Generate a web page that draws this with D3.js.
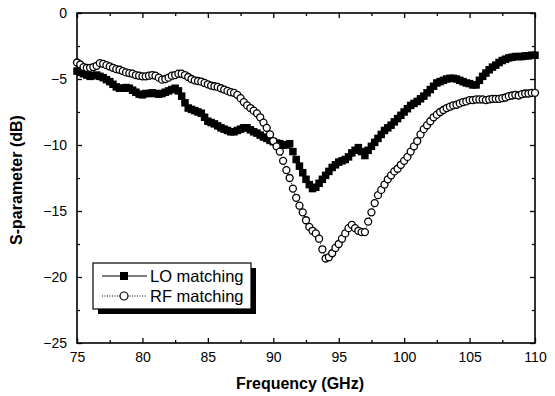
<!DOCTYPE html>
<html>
<head>
<meta charset="utf-8">
<script src="https://cdn.jsdelivr.net/npm/d3@7"></script>
<style>
  body { margin: 0; background: #fff; }
  svg { font-family: "Liberation Sans", Arial, sans-serif; }
</style>
</head>
<body>
<div id="app"></div>
<script>
// frequency grid (GHz), 0.25 GHz step
const freq = d3.range(141).map(i => 75 + i * 0.25);

const loMatching = [
  -4.4, -4.5, -4.6, -4.7,   -4.8, -4.75, -4.7, -4.8,   -4.9, -5.05, -5.2, -5.4,
  -5.6, -5.7, -5.7, -5.65,  -5.7, -5.85, -6.0, -6.15,  -6.2, -6.1, -6.1, -6.05,
  -6.1, -6.15, -6.1, -6.0,  -5.9, -5.8, -5.7, -5.9,    -6.3, -6.8, -7.2, -7.3,
  -7.4, -7.5, -7.6, -7.9,   -8.2, -8.3, -8.4, -8.55,   -8.7, -8.8, -8.9, -9.0,
  -9.0, -8.9, -8.8, -8.7,   -8.7, -8.85, -9.0, -9.1,   -9.25, -9.4, -9.5, -9.65,
  -9.75, -9.85, -9.9, -10.0, -10.0, -9.9, -10.5, -11.1, -11.6, -12.1, -12.6, -13.0,
  -13.3, -13.2, -12.9, -12.6, -12.3, -12.0, -11.7, -11.5, -11.3, -11.2, -11.1, -10.9,
  -10.6, -10.4, -10.2, -10.5, -10.8, -10.4, -10.1, -9.8, -9.5, -9.2, -8.9, -8.7,
  -8.5, -8.25, -8.0, -7.75, -7.5, -7.25, -7.0, -6.85,  -6.7, -6.5, -6.3, -6.05,
  -5.8, -5.55, -5.3, -5.2,  -5.1, -5.0, -4.95, -4.95,  -5.0, -5.1, -5.2, -5.3,
  -5.35, -5.45, -5.45, -5.1, -4.8, -4.55, -4.3, -4.1,  -3.95, -3.75, -3.6, -3.5,
  -3.4, -3.35, -3.3, -3.3,  -3.3, -3.25, -3.25, -3.2,  -3.2
];

const rfMatching = [
  -3.75, -3.9, -4.1, -4.15, -4.15, -4.1, -4.0, -3.8,   -3.85, -3.95, -4.05, -4.15,
  -4.25, -4.3, -4.4, -4.5,  -4.55, -4.6, -4.7, -4.75,  -4.8, -4.8, -4.75, -4.7,
  -4.75, -4.9, -5.05, -5.0, -4.9, -4.75, -4.7, -4.6,   -4.6, -4.7, -4.85, -5.0,
  -5.1, -5.15, -5.2, -5.3,  -5.4, -5.5, -5.55, -5.6,   -5.7, -5.8, -5.9, -6.0,
  -6.05, -6.2, -6.45, -6.75, -7.0, -7.2, -7.4, -7.6,   -7.9, -8.3, -8.7, -9.2,
  -9.7, -10.1, -10.5, -11.2, -11.9, -12.5, -13.3, -14.0, -14.6, -15.1, -15.7, -16.2,
  -16.5, -16.7, -17.1, -17.9, -18.6, -18.5, -18.2, -17.8, -17.5, -17.1, -16.7, -16.3,
  -16.05, -16.3, -16.5, -16.6, -16.6, -15.8, -15.1, -14.4, -13.8, -13.4, -13.0, -12.6,
  -12.3, -12.0, -11.8, -11.5, -11.2, -10.9, -10.5, -10.1, -9.7, -9.2, -8.8, -8.5,
  -8.2, -7.9, -7.7, -7.5,   -7.35, -7.2, -7.1, -7.0,   -6.95, -6.85, -6.75, -6.7,
  -6.6, -6.6, -6.55, -6.55, -6.55, -6.6, -6.55, -6.5,  -6.5, -6.5, -6.45, -6.4,
  -6.3, -6.25, -6.2, -6.25, -6.15, -6.1, -6.1, -6.05,  -6.05
];

const xTicks = [75, 80, 85, 90, 95, 100, 105, 110];
const yTicks = [0, -5, -10, -15, -20, -25];
const seriesNames = ['LO matching', 'RF matching'];

const width = 555;
const height = 396;
const margin = { top: 13, right: 20, bottom: 53, left: 77 };

const svg = d3.select('#app')
  .append('svg')
  .attr('width', width)
  .attr('height', height);

const x = d3.scaleLinear()
  .domain([75, 110])
  .range([margin.left, width - margin.right]);

const y = d3.scaleLinear()
  .domain([-25, 0])
  .range([height - margin.bottom, margin.top]);

const x0 = margin.left, x1 = width - margin.right;
const y0 = height - margin.bottom, y1 = margin.top;

// minor ticks (half steps)
const xMinor = d3.range(77.5, 110, 5);
const yMinor = d3.range(-22.5, 0, 5);

function styleAxis(g) {
  g.select('.domain').remove();
  g.selectAll('.tick line').attr('stroke', '#000').attr('stroke-width', 1.3);
  g.selectAll('.tick text').attr('fill', '#000').attr('font-size', 14);
}

// bottom axis
svg.append('g')
  .attr('transform', `translate(0,${y0})`)
  .call(d3.axisBottom(x).tickValues(xTicks).tickSize(-5).tickPadding(9).tickFormat(d3.format('d')))
  .call(styleAxis);
svg.append('g')
  .attr('transform', `translate(0,${y0})`)
  .call(d3.axisBottom(x).tickValues(xMinor).tickSize(-3).tickFormat(''))
  .call(styleAxis);

// top axis
svg.append('g')
  .attr('transform', `translate(0,${y1})`)
  .call(d3.axisTop(x).tickValues(xTicks).tickSize(-5).tickFormat(''))
  .call(styleAxis);
svg.append('g')
  .attr('transform', `translate(0,${y1})`)
  .call(d3.axisTop(x).tickValues(xMinor).tickSize(-3).tickFormat(''))
  .call(styleAxis);

// left axis
svg.append('g')
  .attr('transform', `translate(${x0},0)`)
  .call(d3.axisLeft(y).tickValues(yTicks).tickSize(-5).tickPadding(10).tickFormat(d3.format('d')))
  .call(styleAxis);
svg.append('g')
  .attr('transform', `translate(${x0},0)`)
  .call(d3.axisLeft(y).tickValues(yMinor).tickSize(-3).tickFormat(''))
  .call(styleAxis);

// right axis
svg.append('g')
  .attr('transform', `translate(${x1},0)`)
  .call(d3.axisRight(y).tickValues(yTicks).tickSize(-5).tickFormat(''))
  .call(styleAxis);
svg.append('g')
  .attr('transform', `translate(${x1},0)`)
  .call(d3.axisRight(y).tickValues(yMinor).tickSize(-3).tickFormat(''))
  .call(styleAxis);

// frame
svg.append('rect')
  .attr('x', x0).attr('y', y1)
  .attr('width', x1 - x0).attr('height', y0 - y1)
  .attr('fill', 'none').attr('stroke', '#000').attr('stroke-width', 1.6);

const loData = freq.map((f, i) => ({ f, v: loMatching[i] }));
const rfData = freq.map((f, i) => ({ f, v: rfMatching[i] }));

const line = d3.line().x(d => x(d.f)).y(d => y(d.v));

// lines
svg.append('path').datum(loData)
  .attr('d', line).attr('fill', 'none').attr('stroke', '#000').attr('stroke-width', 1);
svg.append('path').datum(rfData)
  .attr('d', line).attr('fill', 'none').attr('stroke', '#000').attr('stroke-width', 1)
  .attr('stroke-dasharray', '1,1.5');

// LO markers: filled squares
const sq = 7.5;
svg.append('g').selectAll('rect')
  .data(loData)
  .join('rect')
  .attr('x', d => x(d.f) - sq / 2)
  .attr('y', d => y(d.v) - sq / 2)
  .attr('width', sq).attr('height', sq)
  .attr('fill', '#000');

// RF markers: open circles
svg.append('g').selectAll('circle')
  .data(rfData)
  .join('circle')
  .attr('cx', d => x(d.f))
  .attr('cy', d => y(d.v))
  .attr('r', 3.5)
  .attr('fill', '#fff')
  .attr('stroke', '#000')
  .attr('stroke-width', 1.3);

// axis titles
svg.append('text')
  .attr('x', 300).attr('y', 389)
  .attr('text-anchor', 'middle')
  .attr('font-size', 16).attr('font-weight', 'bold')
  .text('Frequency (GHz)');

svg.append('text')
  .attr('transform', `translate(22,180) rotate(-90)`)
  .attr('text-anchor', 'middle')
  .attr('font-size', 16).attr('font-weight', 'bold')
  .text('S-parameter (dB)');

// legend
const lg = svg.append('g');
const lx = 93, ly = 263, lw = 158, lh = 46;
lg.append('rect').attr('x', lx + 5).attr('y', ly + 5).attr('width', lw).attr('height', lh).attr('fill', '#000');
lg.append('rect').attr('x', lx).attr('y', ly).attr('width', lw).attr('height', lh)
  .attr('fill', '#fff').attr('stroke', '#000').attr('stroke-width', 1.2);

seriesNames.forEach((name, i) => {
  const yy = ly + 13 + i * 20;
  lg.append('line')
    .attr('x1', lx + 9).attr('x2', lx + 54).attr('y1', yy).attr('y2', yy)
    .attr('stroke', '#000').attr('stroke-width', 1)
    .attr('stroke-dasharray', i === 0 ? null : '1,1.5');
  if (i === 0) {
    lg.append('rect').attr('x', lx + 31 - 4).attr('y', yy - 4).attr('width', 8).attr('height', 8).attr('fill', '#000');
  } else {
    lg.append('circle').attr('cx', lx + 31).attr('cy', yy).attr('r', 4)
      .attr('fill', '#fff').attr('stroke', '#000').attr('stroke-width', 1.2);
  }
  lg.append('text')
    .attr('x', lx + 57).attr('y', yy + 5.5)
    .attr('font-size', 16.5)
    .text(name);
});
</script>
</body>
</html>
